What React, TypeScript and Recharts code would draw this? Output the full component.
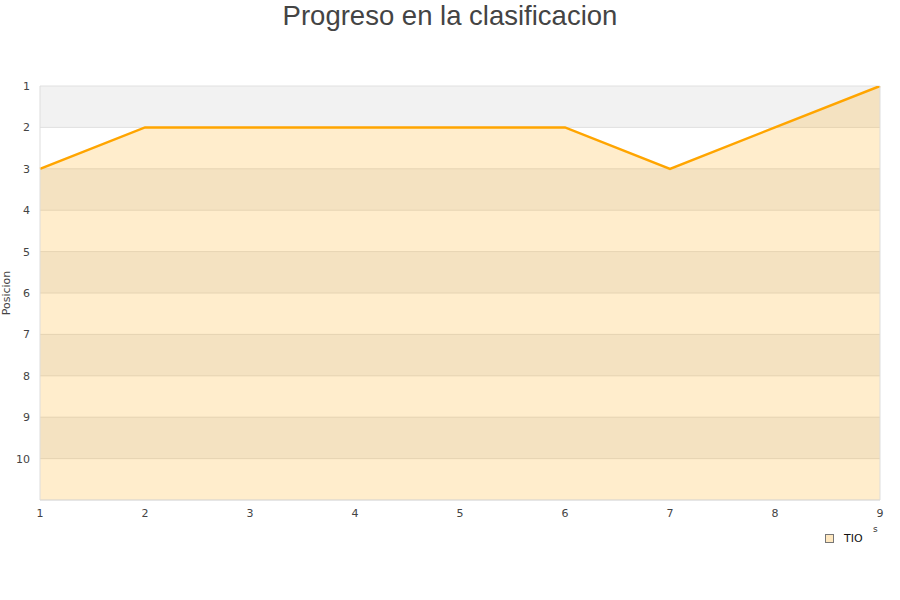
import { ComposedChart, Area, XAxis, YAxis, CartesianGrid, ReferenceLine } from 'recharts';

const jornadas = [1, 2, 3, 4, 5, 6, 7, 8, 9];
const posiciones = [3, 2, 2, 2, 2, 2, 3, 2, 1];
const posicionTicks = [1, 2, 3, 4, 5, 6, 7, 8, 9, 10];
const ultimaPosicion = 11;
const equipo = 'TIO';

const data = jornadas.map((j, i) => ({ jornada: j, posicion: posiciones[i] }));

const ORANGE = '#ffa500';
const TICK = { fontSize: 11, fill: '#444', fontFamily: 'DejaVu Sans' };

function LegendBox() {
  return (
    <div style={{ position: 'absolute', left: 825, top: 531, fontFamily: 'DejaVu Sans', fontSize: 11, color: '#111' }}>
      <span style={{ position: 'absolute', left: 48, top: -7, fontSize: 9, color: '#333' }}>s</span>
      <span style={{ display: 'inline-block', width: 7, height: 7, background: '#ffe8c0', border: '1px solid #777', marginRight: 10, verticalAlign: 'middle' }} />
      <span style={{ verticalAlign: 'middle' }}>{equipo}</span>
    </div>
  );
}

export default function App() {
  return (
    <div style={{ position: 'absolute', left: 0, top: 0, width: 900, height: 600, background: '#fff' }}>
      <div style={{ position: 'absolute', top: 0, width: 900, textAlign: 'center', fontFamily: 'Liberation Sans', fontSize: 27.5, color: '#444', lineHeight: '32px' }}>
        Progreso en la clasificacion
      </div>
      <ComposedChart width={900} height={600} data={data} margin={{ top: 86, right: 20, left: 0, bottom: 70 }}>
        <CartesianGrid vertical={false} stroke="#e0e0e0" horizontalFill={['#f2f2f2', '#ffffff']} />
        <XAxis dataKey="jornada" type="number" domain={[1, 9]} ticks={jornadas} tick={TICK} tickLine={false} tickSize={0} tickMargin={9} height={30} axisLine={{ stroke: '#ddd' }} />
        <YAxis type="number" reversed domain={[1, ultimaPosicion]} ticks={posicionTicks} allowDataOverflow width={40} tick={TICK} tickLine={false} tickSize={0} tickMargin={10} axisLine={{ stroke: '#ddd' }}
          label={{ value: 'Posicion', angle: -90, position: 'insideLeft', offset: 6, style: { fontSize: 11, fill: '#444', fontFamily: 'DejaVu Sans', textAnchor: 'middle' } }} />
        <ReferenceLine x={9} stroke="#ddd" />
        <Area type="linear" dataKey="posicion" baseValue={ultimaPosicion} stroke={ORANGE} strokeWidth={2.5} fill={ORANGE} fillOpacity={0.2} dot={false} activeDot={false} isAnimationActive={false} />
      </ComposedChart>
      <LegendBox />
    </div>
  );
}
